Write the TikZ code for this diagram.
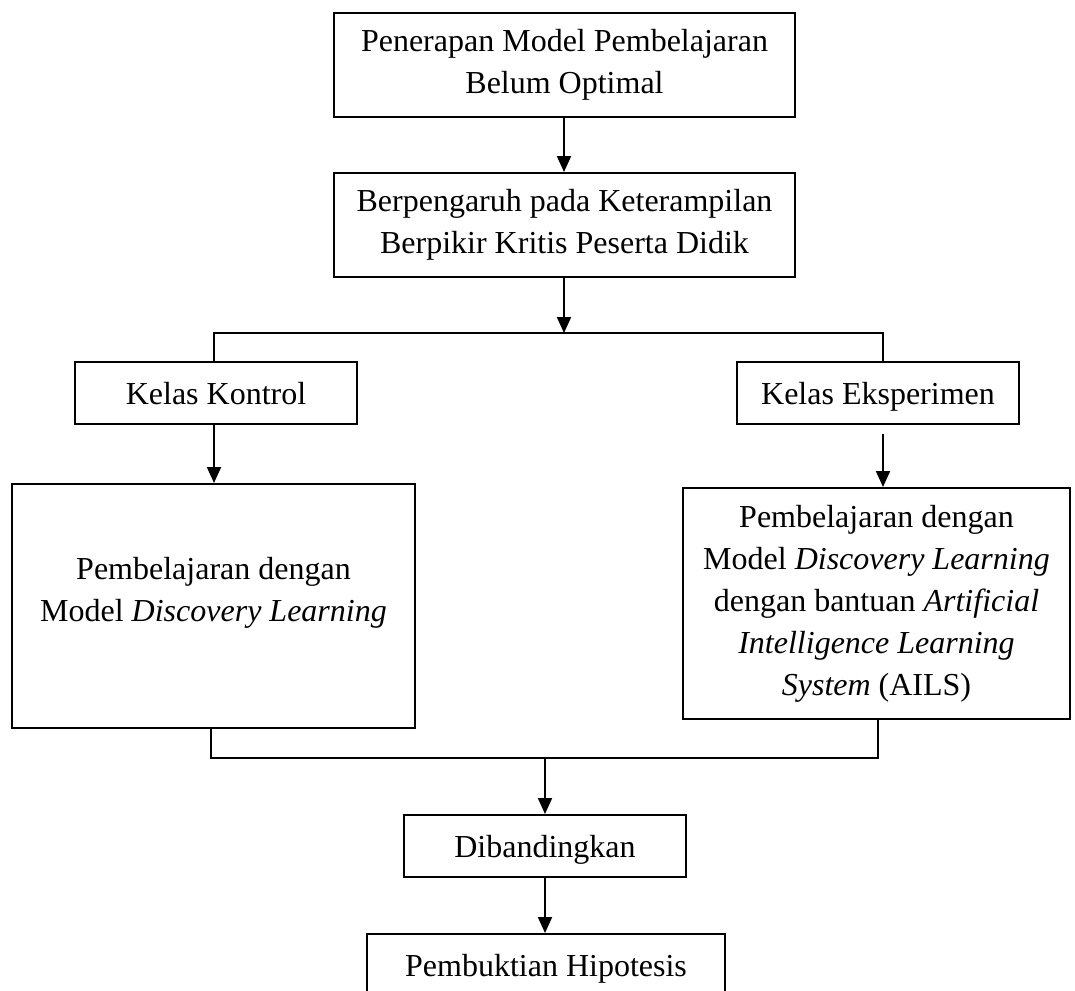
\documentclass[tikz,border=0pt]{standalone}
\usepackage{fontspec}
\setmainfont{Liberation Serif}
\usetikzlibrary{arrows.meta}
\tikzset{
	kotak/.style={draw, line width=1pt, align=center, inner sep=0pt, font=\fontsize{16}{21}\selectfont},
	satu/.style={kotak, minimum height=31pt, text height=11pt, text depth=0pt},
	panah/.style={-{Triangle[length=8pt,width=7pt]}, line width=1pt},
	garis/.style={line width=1pt}
}
\begin{document}
\begin{tikzpicture}[x=.5pt,y=-.5pt]
		\useasboundingbox (0,0) rectangle (1075,990);
		%masalah
			\node[kotak, minimum width=230.5pt, minimum height=52pt] (masalah) at (564.5,65) {Penerapan Model Pembelajaran\\Belum Optimal};
			\node[kotak, minimum width=230.5pt, minimum height=52pt] (pengaruh) at (564.5,225) {Berpengaruh pada Keterampilan\\Berpikir Kritis Peserta Didik};
		% kelas
			\node[satu, minimum width=141pt] (kontrol) at (216,393) {Kelas Kontrol};
			\node[satu, minimum width=141pt] (eksperimen) at (878,393) {Kelas Eksperimen};
		% pembelajaran
			\node[kotak, minimum width=201.5pt, minimum height=122pt] (pkontrol) at (213.5,606) {Pembelajaran dengan\\Model \textit{Discovery Learning}\\[-4pt]};
			\node[kotak, minimum width=193.5pt, minimum height=115.5pt] (peksperimen) at (876.5,603.5) {Pembelajaran dengan\\Model \textit{Discovery Learning}\\dengan bantuan \textit{Artificial}\\\textit{Intelligence Learning}\\\textit{System} (AILS)};
		% hasil
			\node[satu, minimum width=141pt] (banding) at (545,846) {Dibandingkan};
			\node[satu, minimum width=179pt] (hipotesis) at (546,965) {Pembuktian Hipotesis};
		 \path	(564,333) coordinate (cabang)
		 		(214,333) coordinate (kiri-atas)
		 		(883,333) coordinate (kanan-atas)
		 		(211,758) coordinate (kiri-bawah)
		 		(878,758) coordinate (kanan-bawah)
		 		(545,758) coordinate (gabung);
		% alur
			\draw[panah] (masalah.south -| cabang) -- (cabang |- pengaruh.north);
			\draw[panah] (pengaruh.south -| cabang) -- (cabang);
			\draw[garis] (kontrol.north -| kiri-atas) -- (kiri-atas) -- (kanan-atas) -- (kanan-atas |- eksperimen.north);
			\draw[panah] (kontrol.south -| kiri-atas) -- (kiri-atas |- pkontrol.north);
			\draw[panah, shorten <=4.5pt] (eksperimen.south -| kanan-atas) -- (kanan-atas |- peksperimen.north);
			\draw[garis] (pkontrol.south -| kiri-bawah) -- (kiri-bawah) -- (kanan-bawah) -- (kanan-bawah |- peksperimen.south);
			\draw[panah] (gabung) -- (banding);
			\draw[panah] (banding.south) -- (banding.south |- hipotesis.north);
	\end{tikzpicture}
\end{document}
